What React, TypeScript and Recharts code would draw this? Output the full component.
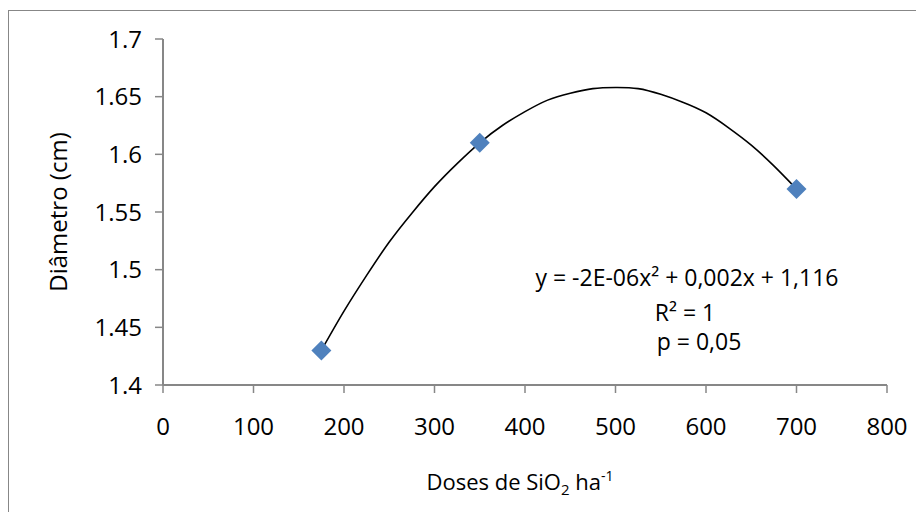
import { ComposedChart, Label, Line, Scatter, XAxis, YAxis } from "recharts";

// observed means
const doses = [175, 350, 700];
const diametro = [1.43, 1.61, 1.57];

// polynomial trendline
const curveDoses = [
  175, 200, 225, 250, 275, 300, 325, 350, 375, 400, 425, 450, 475, 500, 525,
  550, 575, 600, 625, 650, 675, 700,
];
const curveDiametro = [
  1.43, 1.464, 1.495, 1.524, 1.549, 1.572, 1.592, 1.61, 1.625, 1.637, 1.647,
  1.653, 1.657, 1.658, 1.657, 1.652, 1.645, 1.636, 1.623, 1.608, 1.59, 1.57,
];

const xTicks = [0, 100, 200, 300, 400, 500, 600, 700, 800];
const yTicks = [1.4, 1.45, 1.5, 1.55, 1.6, 1.65, 1.7];

const pointData = doses.map((x, i) => ({ x, y: diametro[i] }));
const curveData = curveDoses.map((x, i) => ({ x, y: curveDiametro[i] }));

const FONT = "'Open Sans', sans-serif";
const AXIS = "#878787";

const Diamond = (props: any) => {
  const { cx, cy } = props;
  const r = 10;
  return (
    <path
      d={`M${cx},${cy - r}L${cx + r},${cy}L${cx},${cy + r}L${cx - r},${cy}Z`}
      fill="#4f81bd"
    />
  );
};

const XTitle = (props: any) => {
  const { x, y, width } = props.viewBox;
  return (
    <text
      x={x + width / 2 - 5}
      y={y + 105}
      textAnchor="middle"
      fontFamily={FONT}
      fontSize={22}
      fill="#000"
    >
      Doses de SiO
      <tspan fontSize={15} dy={5}>
        2
      </tspan>
      <tspan dy={-5}> ha</tspan>
      <tspan fontSize={14} dy={-9}>
        -1
      </tspan>
    </text>
  );
};

const YTitle = (props: any) => {
  const { y, height } = props.viewBox;
  const cx = 48;
  const cy = y + height / 2;
  return (
    <text
      x={cx}
      y={cy}
      transform={`rotate(-90 ${cx} ${cy})`}
      textAnchor="middle"
      dominantBaseline="central"
      fontFamily={FONT}
      fontSize={24}
      fill="#000"
    >
      Diâmetro (cm)
    </text>
  );
};

export default function App() {
  const tickStyle = { fontFamily: FONT, fontSize: 24, fill: "#000" };
  return (
    <div
      style={{
        position: "relative",
        width: 916,
        height: 504,
        overflow: "hidden",
        background: "#fff",
      }}
    >
      {/* chart frame: only its top and left edges fall inside the picture */}
      <div
        style={{
          position: "absolute",
          left: 0,
          top: 2,
          width: 1000,
          height: 600,
          borderTop: `1px solid ${AXIS}`,
          borderLeft: `1px solid ${AXIS}`,
        }}
      />
      <div style={{ position: "absolute", left: 1, top: 3 }}>
        <ComposedChart
          width={906}
          height={500}
          margin={{ top: 28, right: 28, left: 0, bottom: 0 }}
        >
          <XAxis
            dataKey="x"
            type="number"
            domain={[0, 800]}
            ticks={xTicks}
            height={126}
            tick={tickStyle}
            tickSize={8}
            tickMargin={25}
            axisLine={{ stroke: AXIS, strokeWidth: 2 }}
            tickLine={{ stroke: AXIS, strokeWidth: 1.5 }}
          >
            <Label content={XTitle} />
          </XAxis>
          <YAxis
            dataKey="y"
            type="number"
            domain={[1.4, 1.7]}
            ticks={yTicks}
            width={154}
            tick={tickStyle}
            tickSize={8}
            tickMargin={13}
            axisLine={{ stroke: AXIS, strokeWidth: 2 }}
            tickLine={{ stroke: AXIS, strokeWidth: 1.5 }}
          >
            <Label content={YTitle} />
          </YAxis>
          <Scatter
            data={pointData}
            dataKey="y"
            shape={Diamond}
            isAnimationActive={false}
          />
          <Line
            data={curveData}
            dataKey="y"
            type="natural"
            stroke="#000"
            strokeWidth={1.6}
            dot={false}
            activeDot={false}
            isAnimationActive={false}
          />
        </ComposedChart>
        <svg
          width={906}
          height={500}
          style={{ position: "absolute", left: 0, top: 0, pointerEvents: "none" }}
        >
          <g fontFamily={FONT} fontSize={23} fill="#000" textAnchor="middle">
            <text x={678} y={275}>
              y = -2E-06x² + 0,002x + 1,116
            </text>
            <text x={676} y={310}>
              R² = 1
            </text>
            <text x={690} y={339}>
              p = 0,05
            </text>
          </g>
        </svg>
      </div>
    </div>
  );
}
